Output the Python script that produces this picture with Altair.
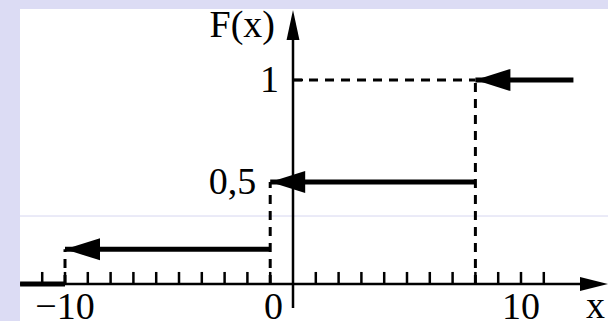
import altair as alt
import pandas as pd

# Distribution function F(x): jump points and the level on each interval
jump_x = [-10, -1, 8]
levels = [0.0, 0.17, 0.5, 1.0]
left_end = -11.97
right_end = 12.3

# Axis ticks and labels
x_ticks = [t for t in range(-11, 12) if t != 0]
x_label_pos = [-10, 10]
x_label_text = ["\u221210", "10"]
origin_text = "0"
y_label_vals = [1.0, 0.5]
y_label_anchor = [0, -1]
y_label_text = ["1", "0,5"]
x_name = "x"
y_name = "F(x)"

X_DOM = [-11.974, 13.816]
Y_DOM = [-0.1814, 1.348]
AXIS_BOTTOM = -0.118
AXIS_TOP = 1.343
TICK_LEN = 0.059

FONT = "Liberation Serif"
FS = 38


def xs(field):
    return alt.X(field, type="quantitative",
                 scale=alt.Scale(domain=X_DOM, nice=False, zero=False), axis=None)


def ys(field):
    return alt.Y(field, type="quantitative",
                 scale=alt.Scale(domain=Y_DOM, nice=False, zero=False), axis=None)


seg = pd.DataFrame({
    "x": [left_end] + jump_x,
    "x2": jump_x + [right_end],
    "F": levels,
})
jumps = pd.DataFrame({"x": jump_x, "F": levels[1:], "y0": [0.0] * len(jump_x)})
ticks = pd.DataFrame({"x": x_ticks, "y0": 0.0, "y1": TICK_LEN})
xlab = pd.DataFrame({"x": x_label_pos, "F": 0.0, "t": x_label_text})
ylab = pd.DataFrame({"x": y_label_anchor, "F": y_label_vals, "t": y_label_text})
one = pd.DataFrame({"x": [0.0], "x2": [jump_x[-1]], "F": [1.0]})
origin = pd.DataFrame({"x": [0.0], "F": [0.0], "t": [origin_text]})
axes = pd.DataFrame({
    "xa": [X_DOM[0]], "xb": [X_DOM[1] - 0.6], "xt": [X_DOM[1]],
    "ya": [AXIS_BOTTOM], "yb": [AXIS_TOP - 0.07], "yt": [AXIS_TOP],
    "zero": [0.0], "xx": [x_name], "yy": [y_name],
})

# faint guide line across the page
guide = alt.Chart(axes).mark_rule(color="#D6D6F0", strokeWidth=1).encode(
    x=alt.value(0), x2=alt.value(588), y=alt.value(207))

x_axis = alt.Chart(axes).mark_rule(color="black", strokeWidth=2.5).encode(
    x=xs("xa"), x2="xb", y=ys("zero"))
y_axis = alt.Chart(axes).mark_rule(color="black", strokeWidth=2.5).encode(
    x=xs("zero"), y=ys("ya"), y2="yb")
x_head = alt.Chart(axes).mark_point(
    shape="M0,0 L-2,-0.5 L-2,0.5 Z", size=784, filled=True, opacity=1,
    color="black", strokeWidth=0).encode(x=xs("xt"), y=ys("zero"))
y_head = alt.Chart(axes).mark_point(
    shape="M0,0 L-0.43,2 L0.43,2 Z", size=900, filled=True, opacity=1,
    color="black", strokeWidth=0).encode(x=xs("zero"), y=ys("yt"))

tick_marks = alt.Chart(ticks).mark_rule(color="black", strokeWidth=2.5).encode(
    x=xs("x"), y=ys("y0"), y2="y1")
one_tick = alt.Chart(one).mark_rule(color="black", strokeWidth=2.5).encode(
    x=xs("x"), x2=alt.value(283), y=ys("F"))

dash_v = alt.Chart(jumps).mark_rule(
    color="black", strokeWidth=3, strokeDash=[9, 7], strokeCap="butt").encode(
    x=xs("x"), y=ys("y0"), y2="F")
dash_h = alt.Chart(one).mark_rule(
    color="black", strokeWidth=3, strokeDash=[9, 7], strokeCap="butt").encode(
    x=xs("x"), x2="x2", y=ys("F"))

steps = alt.Chart(seg).mark_rule(color="black", strokeWidth=5, strokeCap="butt").encode(
    x=xs("x"), x2="x2", y=ys("F"))
heads = alt.Chart(jumps).mark_point(
    shape="M0,0 L2,-0.63 L2,0.63 Z", size=1225, filled=True, opacity=1,
    color="black", strokeWidth=0).encode(x=xs("x"), y=ys("F"))

txt = dict(font=FONT, fontSize=FS, color="black")
x_labels = alt.Chart(xlab).mark_text(align="center", baseline="alphabetic", dy=35, **txt).encode(
    x=xs("x"), y=ys("F"), text="t")
origin_label = alt.Chart(origin).mark_text(align="right", baseline="alphabetic", dx=-10, dy=35, **txt).encode(
    x=xs("x"), y=ys("F"), text="t")
y_labels = alt.Chart(ylab).mark_text(align="right", baseline="alphabetic", dx=-14, dy=12, **txt).encode(
    x=xs("x"), y=ys("F"), text="t")
x_title = alt.Chart(axes).mark_text(align="right", baseline="alphabetic", dx=-3, dy=34, **txt).encode(
    x=xs("xt"), y=ys("zero"), text="xx")
y_title = alt.Chart(axes).mark_text(align="right", baseline="alphabetic", dx=-18, dy=27, **txt).encode(
    x=xs("zero"), y=ys("yt"), text="yy")

chart = alt.layer(
    guide, x_axis, y_axis, x_head, y_head, tick_marks, one_tick,
    dash_v, dash_h, steps, heads,
    x_labels, origin_label, y_labels, x_title, y_title,
).properties(
    width=588, height=312,
    padding={"left": 20, "top": 9, "right": 0, "bottom": 0},
    autosize=alt.AutoSizeParams(type="none"),
    background="#DCDCF4",
).configure_view(fill="white", stroke=None)

chart.save("out.html", embed_options={"renderer": "svg", "actions": False})
